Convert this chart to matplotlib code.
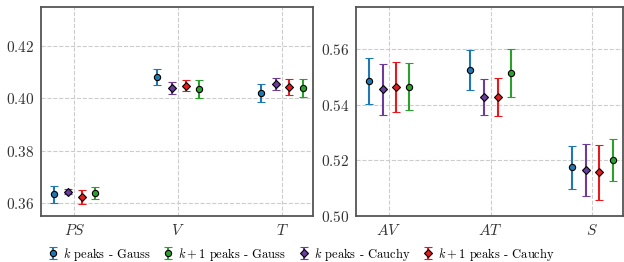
import matplotlib
matplotlib.use('Agg')
import matplotlib.pyplot as plt
import numpy as np
from matplotlib.ticker import FuncFormatter

plt.rcParams['font.family'] = 'serif'
plt.rcParams['font.serif'] = ['cmr10']
plt.rcParams['mathtext.fontset'] = 'cm'
plt.rcParams['axes.formatter.use_mathtext'] = True

# left panel
cats1 = ['$PS$', '$V$', '$T$']
kg1 = [0.3632, 0.4081, 0.4022]
kg1_err = [0.0031, 0.0030, 0.0035]
kc1 = [0.3643, 0.4040, 0.4054]
kc1_err = [0.0010, 0.0023, 0.0023]
k1c1 = [0.3623, 0.4049, 0.4043]
k1c1_err = [0.0026, 0.0020, 0.0030]
k1g1 = [0.3638, 0.4036, 0.4041]
k1g1_err = [0.0024, 0.0033, 0.0035]

# right panel
cats2 = ['$AV$', '$AT$', '$S$']
kg2 = [0.5484, 0.5524, 0.5174]
kg2_err = [0.0082, 0.0073, 0.0077]
kc2 = [0.5455, 0.5426, 0.5164]
kc2_err = [0.0092, 0.0065, 0.0094]
k1c2 = [0.5464, 0.5427, 0.5157]
k1c2_err = [0.0090, 0.0070, 0.0099]
k1g2 = [0.5464, 0.5513, 0.5201]
k1g2_err = [0.0085, 0.0085, 0.0074]

labels = ['$k$ peaks - Gauss', '$k$ peaks - Cauchy', '$k+1$ peaks - Cauchy', '$k+1$ peaks - Gauss']
colors = ['#1f77b4', '#6a3d9a', '#e8191c', '#2ca02c']
markers = ['o', 'D', 'D', 'o']
offsets = [-0.2, -0.06, 0.07, 0.2]

fig = plt.figure(figsize=(6.24, 2.62), dpi=100)
ax1 = fig.add_axes([0.066, 0.176, 0.436, 0.797])
ax2 = fig.add_axes([0.571, 0.176, 0.427, 0.797])

panels = [
    (ax1, cats1, [kg1, kc1, k1c1, k1g1], [kg1_err, kc1_err, k1c1_err, k1g1_err], (0.355, 0.435), [0.36, 0.38, 0.40, 0.42]),
    (ax2, cats2, [kg2, kc2, k1c2, k1g2], [kg2_err, kc2_err, k1c2_err, k1g2_err], (0.50, 0.575), [0.50, 0.52, 0.54, 0.56]),
]

handles = []
for ax, cats, vals, errs, ylim, yt in panels:
    x = np.arange(len(cats))
    hs = []
    for v, e, c, m, o, lab in zip(vals, errs, colors, markers, offsets, labels):
        h = ax.errorbar(x + o, v, yerr=e, fmt=m, color=c, ecolor=c, capsize=3,
                        elinewidth=1.5, capthick=1.2, markersize=4 if m == 'D' else 4.5,
                        markeredgecolor='black', markeredgewidth=0.8, label=lab)
        hs.append(h)
    handles = hs
    ax.set_xticks(x)
    ax.set_xticklabels(cats, fontsize=11)
    ax.set_xlim(-0.32, 2.3)
    ax.set_ylim(*ylim)
    ax.set_yticks(yt)
    ax.yaxis.set_major_formatter(FuncFormatter(lambda v, p: '$%.2f$' % v))
    ax.tick_params(length=0, labelsize=11, colors='#333333', pad=5)
    ax.grid(True, linestyle='--', color='#cccccc', linewidth=0.8)
    ax.set_axisbelow(True)
    for s in ax.spines.values():
        s.set_color('#555555')
        s.set_linewidth(1.3)

order = [0, 3, 1, 2]
fig.legend([handles[i] for i in order], [labels[i] for i in order], loc='lower center',
           ncol=4, frameon=False, fontsize=9, bbox_to_anchor=(0.483, -0.045),
           handletextpad=0.4, columnspacing=1.0, handlelength=0.8)

fig.savefig('out.png', dpi=100)
